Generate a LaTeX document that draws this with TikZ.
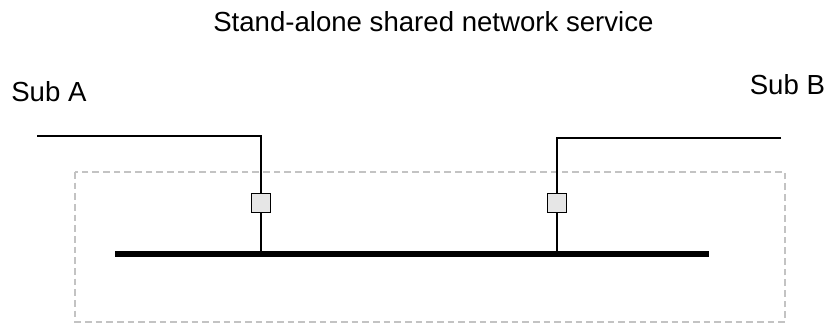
\documentclass[tikz,border=0pt]{standalone}
\usepackage{xcolor}
\usepackage{fontspec}
\setmainfont{Liberation Sans}
\usepackage{tikz}

\definecolor{portgray}{RGB}{230,230,230}
\definecolor{zonegray}{RGB}{195,195,195}

\begin{document}
\begin{tikzpicture}[x=0.75pt,y=0.75pt,yscale=-1,xscale=1]
\tikzset{
  port/.style={draw, line width=1.1pt, fill=portgray, inner sep=0pt, minimum size=14.6pt},
  wire/.style={line width=0.9pt},
  busline/.style={line width=3.8pt},
  zone/.style={draw=zonegray, line width=1pt, dash pattern=on 5pt off 3pt},
  label/.style={font=\fontsize{20.7}{24}\selectfont, inner sep=0pt}
}
\useasboundingbox (0,0) rectangle (827,325);

%Shape: Rectangle [id:zone]
\draw [zone] (75,172) rectangle (785,322);

%Coordinates
\coordinate (subAend) at (37,136);
\coordinate (subBend) at (781,138);
\coordinate (busL) at (115,254);
\coordinate (busR) at (709,254);

%Shape: Square [id:portA]
\node [port] (portA) at (261,203) {};
%Shape: Square [id:portB]
\node [port] (portB) at (557,203) {};

%Straight Lines [id:bus]
\draw [busline] (busL) -- (busR);
%Straight Lines [id:subA]
\draw [wire] (subAend) -- (subAend -| portA) -- (portA.north);
\draw [wire] (portA.south) -- (portA |- busL);
%Straight Lines [id:subB]
\draw [wire] (subBend) -- (subBend -| portB) -- (portB.north);
\draw [wire] (portB.south) -- (portB |- busL);

% Text Node
\node [label, anchor=base west] (title) at (213,31) {Stand-alone shared network service};
% Text Node
\node [label, anchor=base west] (subA) at (11,101.7) {Sub A};
% Text Node
\node [label, anchor=base west] (subB) at (749.5,94.3) {Sub B};
\end{tikzpicture}
\end{document}
